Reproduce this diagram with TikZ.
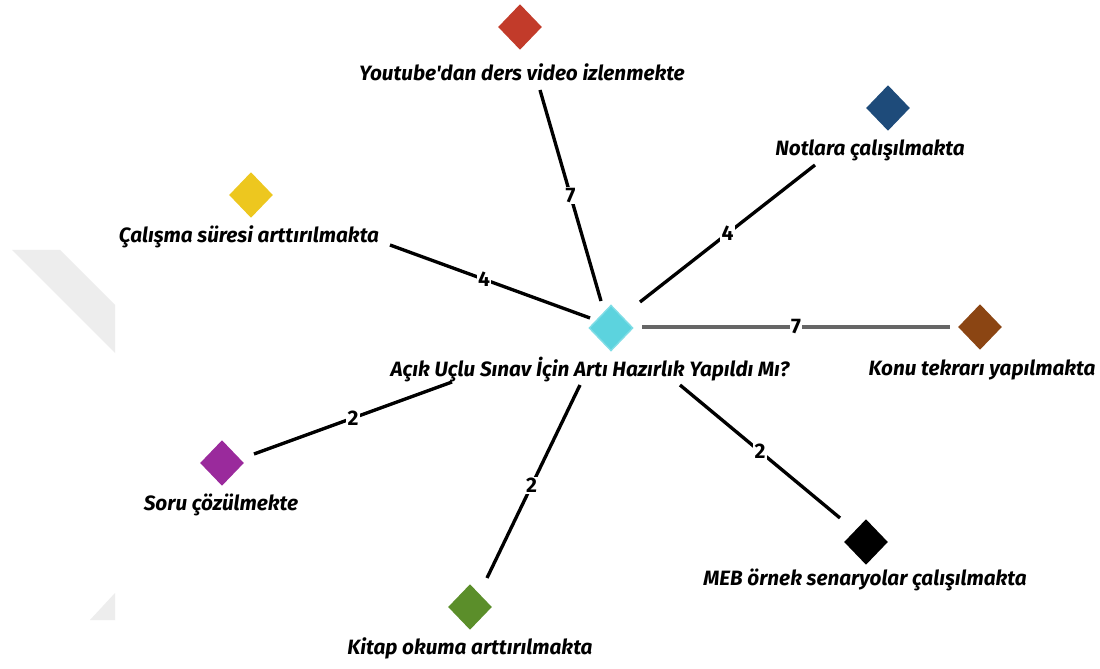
\documentclass[tikz,border=0pt]{standalone}
\usepackage{fontspec}
\setmainfont{Fira Sans}[Ligatures=TeXOff]
\usetikzlibrary{shapes.geometric}
\definecolor{cred}{HTML}{C23B2A}
\definecolor{cblue}{HTML}{1E4B7A}
\definecolor{cyellow}{HTML}{EDC71F}
\definecolor{ccyan}{HTML}{5CD3DE}
\definecolor{ccyanb}{HTML}{7FDDE6}
\definecolor{cbrown}{HTML}{8B4513}
\definecolor{cpurple}{HTML}{9A2A9C}
\definecolor{cgreen}{HTML}{5B8E2A}
\definecolor{cgreyline}{HTML}{666666}
\definecolor{wmark}{HTML}{EDEDED}
\tikzset{
  dia/.style={diamond, inner sep=0pt, minimum width=25pt, minimum height=26pt},
  lbl/.style={font=\fontsize{11.8pt}{14pt}\selectfont\bfseries\itshape, inner sep=1pt},
  link/.style={line width=1.9pt, black},
  num/.style={font=\fontsize{12pt}{14pt}\selectfont\bfseries, fill=white, inner sep=0.8pt}
}
\begin{document}
\begin{tikzpicture}[x=0.02cm,y=-0.02cm]
\useasboundingbox (0,0) rectangle (1100,669);
\fill[white] (0,0) rectangle (1100,669);
% watermark fragments
\fill[wmark] (12,250) -- (60,250) -- (115,305) -- (115,353) -- cycle;
\fill[wmark] (90,620) -- (115,593) -- (115,620) -- cycle;

% diamonds
\node[dia, fill=ccyan, draw=ccyanb, line width=0.8pt] (c) at (611,328) {};
\node[dia, fill=cred] (yt) at (520,27) {};
\node[dia, fill=cblue] (nt) at (888,108) {};
\node[dia, fill=cyellow] (cs) at (251,195) {};
\node[dia, fill=cbrown] (kt) at (980,327) {};
\node[dia, fill=cpurple] (sc) at (222,463) {};
\node[dia, fill=black] (meb) at (866,542) {};
\node[dia, fill=cgreen] (ko) at (470,607) {};

% labels
\node[lbl] (cL) at (590,370) {Açık Uçlu Sınav İçin Artı Hazırlık Yapıldı Mı?};
\node[lbl] (ytL) at (522,72) {Youtube'dan ders video izlenmekte};
\node[lbl] (ntL) at (870,150) {Notlara çalışılmakta};
\node[lbl] (csL) at (249,237) {Çalışma süresi arttırılmakta};
\node[lbl] (ktL) at (982,370) {Konu tekrarı yapılmakta};
\node[lbl] (scL) at (221,505) {Soru çözülmekte};
\node[lbl] (mebL) at (865,580) {MEB örnek senaryolar çalışılmakta};
\node[lbl] (koL) at (470,648) {Kitap okuma arttırılmakta};

% edge endpoints
\coordinate (ytE) at (540,90);   \coordinate (cYt) at (601,301);
\coordinate (ntE) at (815,165);  \coordinate (cNt) at (640,302);
\coordinate (csE) at (390,245);  \coordinate (cCs) at (590,318);
\coordinate (ktE) at (950,327);  \coordinate (cKt) at (642,327);
\coordinate (scE) at (254,454);  \coordinate (cSc) at (452,382);
\coordinate (koE) at (487,578);  \coordinate (cKo) at (580,385);
\coordinate (mebE) at (840,518); \coordinate (cMeb) at (680,385);

\draw[link] (ytE) -- node[num] {7} (cYt);
\draw[link] (ntE) -- node[num, pos=0.5] {4} (cNt);
\draw[link] (csE) -- node[num, pos=0.47] {4} (cCs);
\draw[link, cgreyline] (cKt) -- node[num, text=black, pos=0.5] {7} (ktE);
\draw[link] (scE) -- node[num, pos=0.5] {2} (cSc);
\draw[link] (koE) -- node[num, pos=0.48] {2} (cKo);
\draw[link] (cMeb) -- node[num, pos=0.5] {2} (mebE);
\end{tikzpicture}
\end{document}
